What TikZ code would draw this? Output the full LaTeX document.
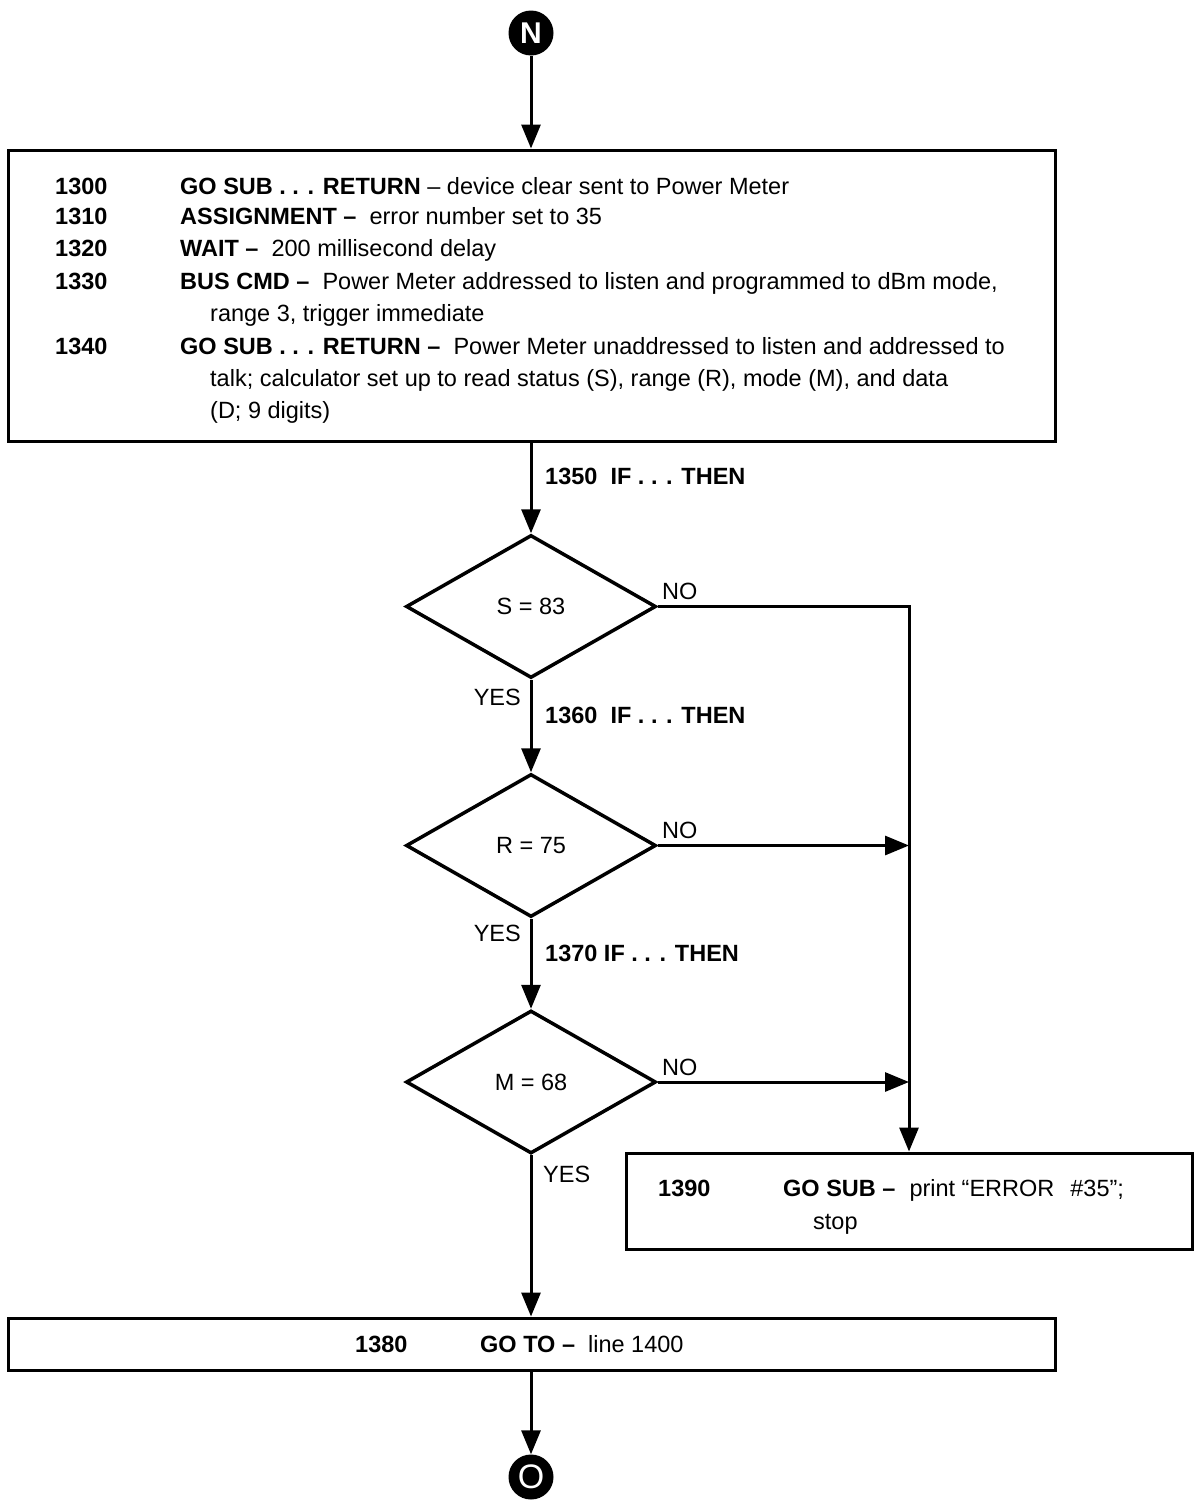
\documentclass[tikz,border=0pt]{standalone}
\usepackage{fontspec}
\setmainfont{Liberation Sans}
\usetikzlibrary{shapes.geometric,arrows.meta}
\begin{document}
\begin{tikzpicture}[x=1pt,y=-1pt,
  txt/.style={font=\fontsize{23.5}{28}\selectfont, inner sep=0pt, anchor=west, text height=16.8pt, text depth=0pt},
  btxt/.style={txt, font=\fontsize{23.5}{28}\selectfont\bfseries},
  boxs/.style={draw, line width=3pt, rectangle, inner sep=0pt},
  dec/.style={draw, line width=3.5pt, diamond, inner sep=0pt, minimum width=250pt, minimum height=143pt},
  conn/.style={circle, fill=black, minimum size=45pt, inner sep=0pt, text=white, font=\fontsize{30}{30}\selectfont\bfseries},
  arr/.style={line width=3pt, -{Triangle[length=24pt,width=19pt]}},
  ln/.style={line width=3pt}
]
\useasboundingbox (0,0) rectangle (1194,1502);
\fill[white] (0,0) rectangle (1194,1502);

% connectors N and O
\node[conn] (N) at (531,33) {N};
\node[conn, font=\fontsize{34}{34}\selectfont] (O) at (531,1477) {O};

% top box
\node[boxs, minimum width=1047pt, minimum height=291pt] (top) at (531.5,295.5) {};
\node[btxt] (n1300) at (55,186) {1300};
\node[btxt] (n1310) at (55,216) {1310};
\node[btxt] (n1320) at (55,248) {1320};
\node[btxt] (n1330) at (55,281) {1330};
\node[btxt] (n1340) at (55,346) {1340};
\node[txt] (t1) at (180,186) {\textbf{GO SUB . . . RETURN} -- device clear sent to Power Meter};
\node[txt] (t2) at (180,216) {\textbf{ASSIGNMENT --}\ \ error number set to 35};
\node[txt] (t3) at (180,248) {\textbf{WAIT --}\ \ 200 millisecond delay};
\node[txt] (t4) at (180,281) {\textbf{BUS CMD --}\ \ Power Meter addressed to listen and programmed to dBm mode,};
\node[txt] (t5) at (210,313) {range 3, trigger immediate};
\node[txt] (t6) at (180,346) {\textbf{GO SUB . . . RETURN --}\ \ Power Meter unaddressed to listen and addressed to};
\node[txt] (t7) at (210,378) {talk; calculator set up to read status (S), range (R), mode (M), and data};
\node[txt] (t8) at (210,410) {(D; 9 digits)};

% diamonds
\node[dec] (d1) at (531,606.5) {};
\node[txt, anchor=center] at (d1.center) {S = 83};
\node[dec] (d2) at (531,845.5) {};
\node[txt, anchor=center] at (d2.center) {R = 75};
\node[dec] (d3) at (531,1082) {};
\node[txt, anchor=center] at (d3.center) {M = 68};

% right box
\node[boxs, minimum width=566pt, minimum height=96pt] (rb) at (909,1201) {};
\node[btxt] (n1390) at (658,1188) {1390};
\node[txt] (t9) at (783,1188) {\textbf{GO SUB --}\hspace{14pt}print “ERROR\hspace{16pt}\#35”;};
\node[txt] (t10) at (813,1221) {stop};

% bottom box
\node[boxs, minimum width=1047pt, minimum height=52pt] (bot) at (531.5,1344) {};
\node[btxt] (n1380) at (355,1344) {1380};
\node[txt] (t11) at (480,1344) {\textbf{GO TO --}\ \ line 1400};

% labels
\node[btxt] (l1350) at (545,476) {1350\ \ IF . . . THEN};
\node[btxt] (l1360) at (545,715) {1360\ \ IF . . . THEN};
\node[btxt] (l1370) at (545,953) {1370 IF . . . THEN};
\node[txt] (no1) at (662,591) {NO};
\node[txt] (no2) at (662,830) {NO};
\node[txt] (no3) at (662,1067) {NO};
\node[txt, anchor=east] (yes1) at (521,697) {YES};
\node[txt, anchor=east] (yes2) at (521,933) {YES};
\node[txt] (yes3) at (543,1174) {YES};

% flow
\draw[arr] (N) -- (N |- top.north);
\draw[arr] (top.south -| d1.north) -- (d1.north);
\draw[arr] (d1.south) -- (d2.north);
\draw[arr] (d2.south) -- (d3.north);
\draw[arr] (d3.south) -- (d3.south |- bot.north);
\draw[arr] (bot.south -| O.north) -- (O.north);
\draw[arr] (d1.east) -| (rb.north);
\draw[arr] (d2.east) -- (d2.east -| rb.north);
\draw[arr] (d3.east) -- (d3.east -| rb.north);
\end{tikzpicture}
\end{document}
